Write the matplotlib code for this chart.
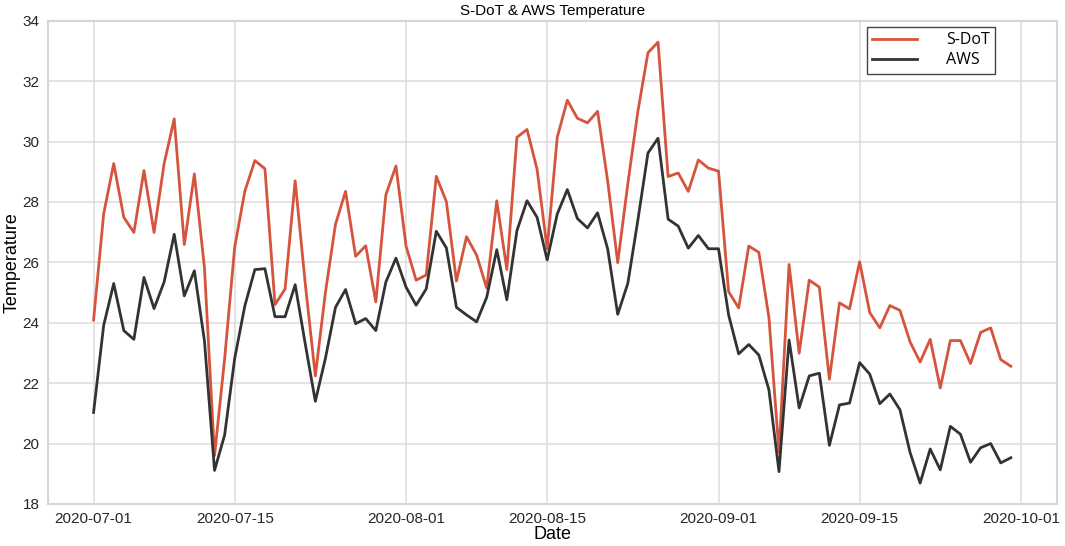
import matplotlib
matplotlib.use('Agg')
import matplotlib.pyplot as plt
import matplotlib.dates as mdates
import pandas as pd

dates = pd.date_range('2020-07-01', '2020-09-30', freq='D')

sdot = [24.09, 27.6, 29.27, 27.49, 26.99, 29.04, 26.99, 29.27, 30.75, 26.59, 28.93, 25.82,
        19.6, 22.8, 26.5, 28.35, 29.37, 29.1, 24.6, 25.12, 28.7, 25.3, 22.24, 25.0,
        27.26, 28.35, 26.2, 26.55, 24.69, 28.24, 29.19, 26.54, 25.41, 25.58, 28.85, 28.01,
        25.38, 26.85, 26.24, 25.15, 28.04, 25.76, 30.14, 30.4, 29.08, 26.45, 30.14, 31.37,
        30.77, 30.62, 31.0, 28.7, 25.99, 28.6, 31.0, 32.94, 33.29, 28.84, 28.96, 28.35,
        29.39, 29.12, 29.02, 25.03, 24.49, 26.54, 26.33, 24.18, 19.71, 25.93, 22.99, 25.41,
        25.18, 22.13, 24.66, 24.46, 26.02, 24.34, 23.83, 24.57, 24.41, 23.37, 22.70, 23.45,
        21.84, 23.41, 23.41, 22.65, 23.68, 23.83, 22.78, 22.56]

aws = [21.03, 23.91, 25.3, 23.74, 23.45, 25.5, 24.47, 25.35, 26.93, 24.89, 25.72, 23.4,
       19.11, 20.28, 22.82, 24.55, 25.76, 25.79, 24.2, 24.2, 25.26, 23.3, 21.4, 22.82,
       24.51, 25.1, 23.97, 24.14, 23.74, 25.35, 26.14, 25.18, 24.58, 25.12, 27.03, 26.48,
       24.51, 24.26, 24.03, 24.84, 26.42, 24.76, 27.05, 28.04, 27.49, 26.08, 27.6, 28.41,
       27.45, 27.14, 27.64, 26.45, 24.28, 25.3, 27.4, 29.62, 30.11, 27.43, 27.2, 26.47,
       26.89, 26.45, 26.45, 24.26, 22.97, 23.28, 22.93, 21.78, 19.07, 23.43, 21.18, 22.24,
       22.33, 19.94, 21.28, 21.34, 22.68, 22.30, 21.32, 21.64, 21.12, 19.71, 18.69, 19.82,
       19.13, 20.57, 20.31, 19.38, 19.86, 20.0, 19.36, 19.53]

plt.rcParams['font.family'] = ['Liberation Sans', 'DejaVu Sans']

fig = plt.figure(figsize=(10.65, 5.46), dpi=100)
ax = fig.add_axes([0.0448, 0.077, 0.9474, 0.885])

ax.plot(dates, sdot, color='#d6543d', lw=2, label='S-DoT')
ax.plot(dates, aws, color='#333333', lw=2, label='AWS')

ax.set_ylim(18, 34)
ax.set_yticks(range(18, 35, 2))
ax.xaxis.set_major_locator(mdates.DayLocator(bymonthday=[1, 15]))
ax.xaxis.set_major_formatter(mdates.DateFormatter('%Y-%m-%d'))

ax.grid(True, color='#dcdcdc', lw=1.1)
ax.set_axisbelow(True)
for s in ax.spines.values():
    s.set_color('#d6d6d6')
    s.set_linewidth(1.5)
ax.tick_params(length=0, labelsize=11, colors='#262626', pad=6)

ax.set_title('S-DoT & AWS Temperature', fontsize=11, pad=4)
ax.set_xlabel('Date', fontsize=13, labelpad=0)
ax.set_ylabel('Temperature', fontsize=13)
ax.yaxis.set_label_coords(-0.027, 0.5)

leg = ax.legend(loc='upper right', bbox_to_anchor=(0.939, 0.988), borderaxespad=0,
                fancybox=False, edgecolor='#444444', framealpha=1, handlelength=2.8,
                prop={'family': 'Open Sans', 'size': 11.5}, borderpad=0.35,
                labelspacing=0.25, handletextpad=1.8)
leg.get_frame().set_linewidth(1.0)

fig.savefig('out.png', dpi=100)
